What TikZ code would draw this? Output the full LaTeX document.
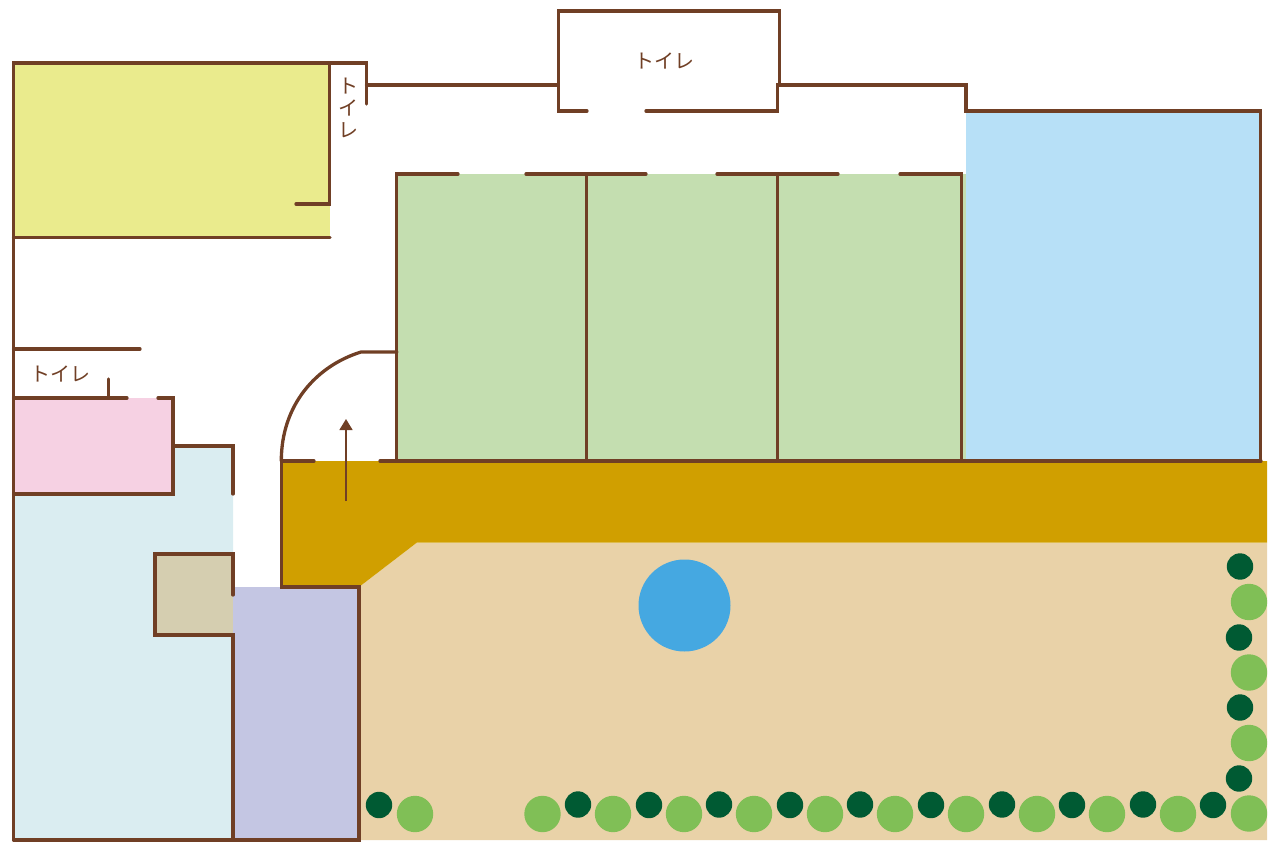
\documentclass[tikz,border=0pt]{standalone}
\usepackage{fontspec}
\newfontfamily\jpfont{Noto Sans CJK JP}
\usetikzlibrary{arrows.meta,positioning}
\definecolor{wallc}{HTML}{703F25}
\definecolor{yellowc}{HTML}{EAEB8D}
\definecolor{greenc}{HTML}{C4DEB0}
\definecolor{bluec}{HTML}{B7E0F7}
\definecolor{pinkc}{HTML}{F6D1E3}
\definecolor{icec}{HTML}{DAEDF1}
\definecolor{tanc}{HTML}{D5CEB0}
\definecolor{lavc}{HTML}{C4C6E3}
\definecolor{goldc}{HTML}{D09F00}
\definecolor{sandc}{HTML}{E9D2A8}
\definecolor{pondc}{HTML}{45A8E1}
\definecolor{darktree}{HTML}{005A33}
\definecolor{lighttree}{HTML}{80BF56}
\tikzset{
  wall/.style={draw=wallc,line width=3.3pt,line cap=round,line join=miter},
  lbl/.style={text=wallc,inner sep=0pt,font=\jpfont\fontsize{20}{22}\selectfont},
}
\begin{document}
\begin{tikzpicture}[x=1pt,y=-1pt]
      \useasboundingbox (0,0) rectangle (1280,850);
      % floors
      \fill[sandc] (359,587) -- (417,542.5) -- (1267,542.5) -- (1267,840) -- (359,840) -- cycle;
      \fill[goldc] (281,461) -- (1267,461) -- (1267,542.5) -- (417,542.5) -- (359,587) -- (281,587) -- cycle;
      \fill[yellowc] (14,63) rectangle (330,237);
      \fill[greenc] (397,174.5) rectangle (966,461);
      \fill[bluec] (966,111) rectangle (1261,461);
      \fill[icec] (173,446) -- (233,446) -- (233,840) -- (14,840) -- (14,494) -- (173,494) -- cycle;
      \fill[pinkc] (14,398) rectangle (173,494);
      \fill[tanc] (155,554) rectangle (233,635);
      \fill[lavc] (233,587) rectangle (359,840);
      \fill[pondc] (684.5,605.5) circle (46);
      % trees
      \foreach \tx/\ty in {1240/566.5,1239/637.5,1240/707.5,1239/778.5,1213/805,1143/804.5,1072/805,1002/804.5,
                           931/805,860/804.5,790/805,719/804.5,649/805,578/804.5,379/805}
        \fill[darktree] (\tx,\ty) circle (13.2);
      \foreach \tx/\ty in {1249/602,1249/672.5,1249/743,1249/813.5,1178/814,1107/814,1037/814,966/814,
                           895/814,825/814,754/814,684/814,613/814,542.5/814,415/814}
        \fill[lighttree] (\tx,\ty) circle (18.2);
      % walls of the west wing
      \draw[wall] (13.6,840) -- (13.6,63) -- (366.5,63) -- (366.5,104);
      \draw[wall] (329.6,63) -- (329.6,204) -- (296,204);
      \draw[wall] (13.6,237.5) -- (330,237.5);
      \draw[wall] (13.6,349) -- (140,349);
      \draw[wall] (108.7,379) -- (108.7,398);
      \draw[wall] (13.6,398) -- (127,398);
      \draw[wall] (158,398) -- (173,398) -- (173,494) -- (13.6,494);
      \draw[wall] (173,446) -- (233,446) -- (233,494);
      \draw[wall] (233,595) -- (233,554) -- (155,554) -- (155,635) -- (233,635) -- (233,840);
      \draw[wall] (13.6,840) -- (359,840) -- (359,587) -- (281.3,587) -- (281.3,461) -- (314,461);
      % corridor and entrance
      \draw[wall] (281.3,461) .. controls (281.3,405) and (316,366) .. (361,352) -- (397,352);
      \draw[wall] (380,461) -- (1261,461);
      \coordinate (arrowfoot) at (346,501);
      \coordinate (arrowtip) at (346,419);
      \draw[draw=wallc,line width=1.4pt,-{Triangle[length=11pt,width=13pt]}] (arrowfoot) -- (arrowtip);
      % walls of the north side
      \draw[wall] (366.5,85) -- (558,85);
      \draw[wall] (587,111) -- (558.5,111) -- (558.5,11) -- (779.5,11) -- (779.5,85);
      \draw[wall] (646,111) -- (777.5,111) -- (777.5,85) -- (966,85) -- (966,111) -- (1260.5,111) -- (1260.5,461);
      \draw[wall] (396.7,461) -- (396.7,174) -- (458,174);
      \draw[wall] (526,174) -- (646,174);
      \draw[wall] (717,174) -- (838,174);
      \draw[wall] (900,174) -- (961.5,174) -- (961.5,461);
      \draw[wall] (586.8,174) -- (586.8,461);
      \draw[wall] (777.8,174) -- (777.8,461);
      % labels
      \node[lbl] (wc1) at (664.5,60.5) {トイレ};
      \node[lbl] (wc2) at (60,373.5) {トイレ};
      \node[lbl,align=center] (wc3) at (348.5,107.5) {ト\\イ\\レ};
\end{tikzpicture}
\end{document}
